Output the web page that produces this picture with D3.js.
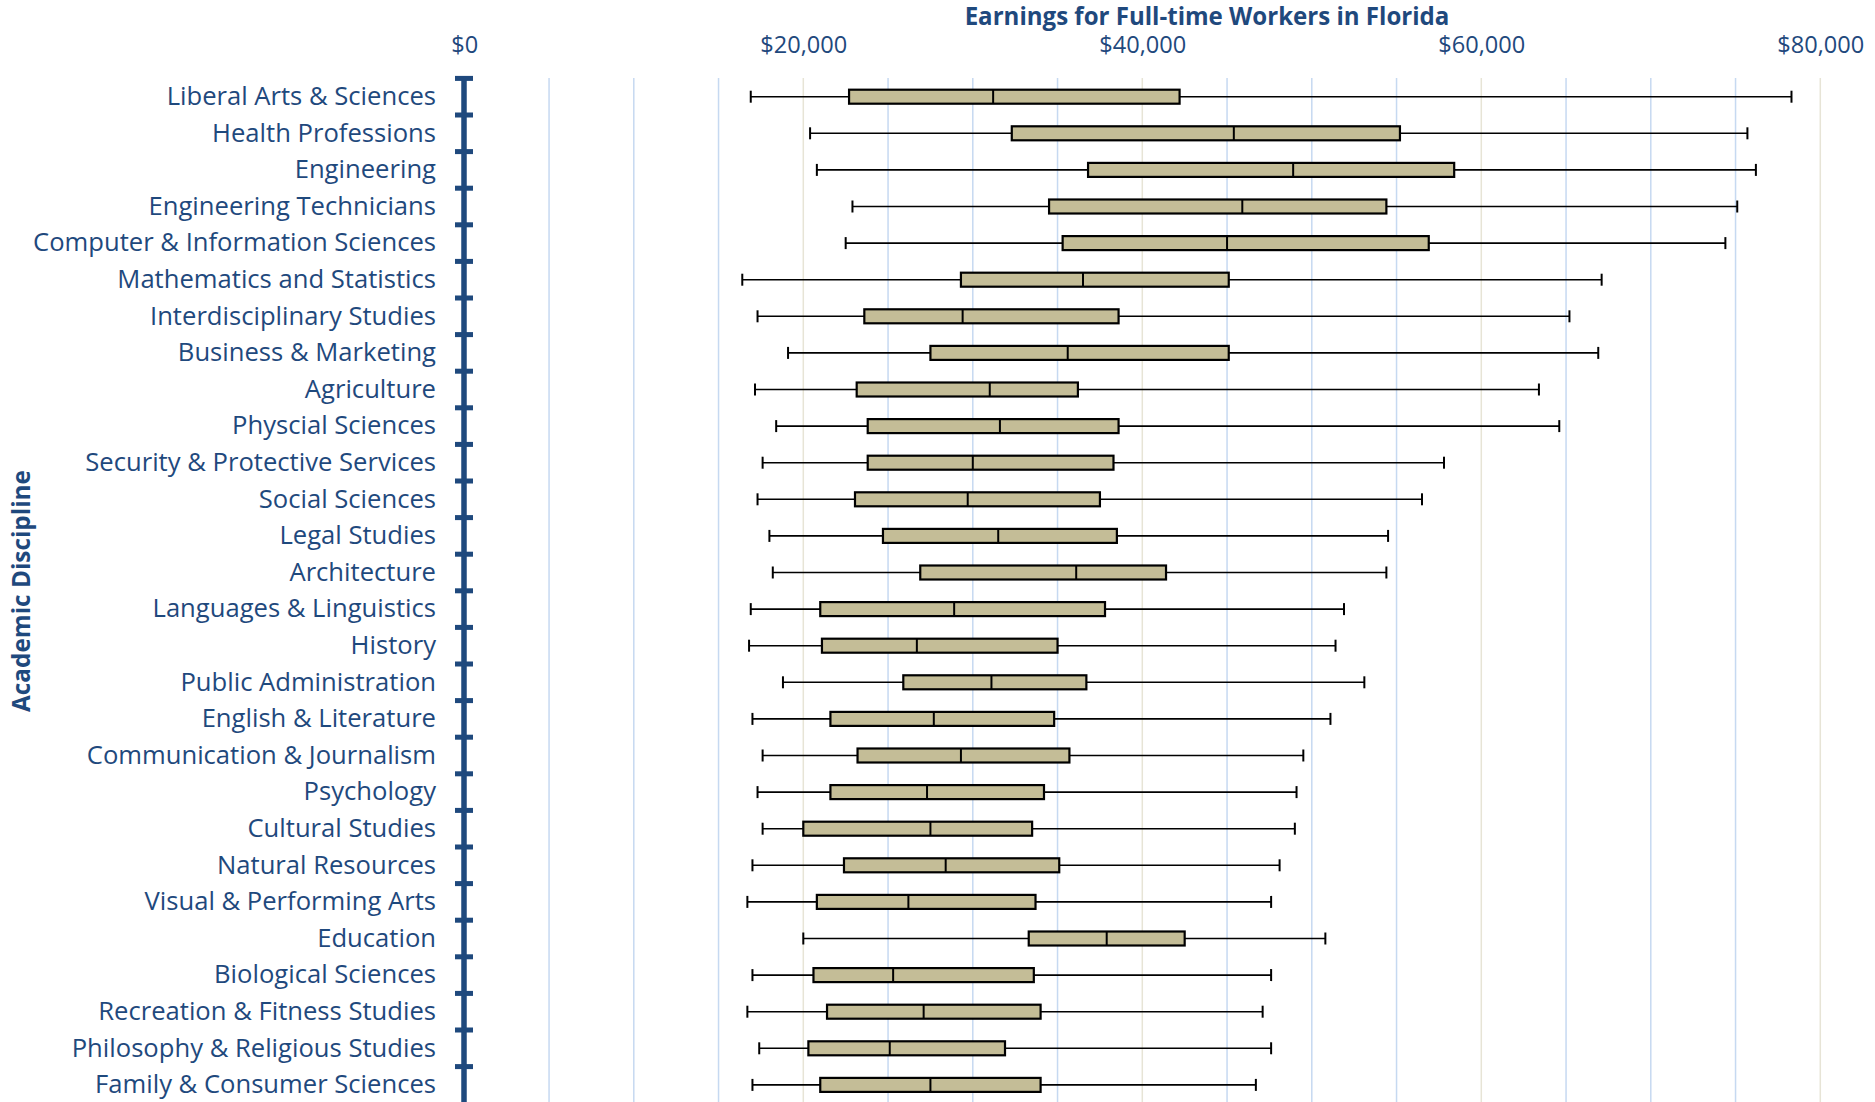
<!DOCTYPE html>
<html>
<head>
<meta charset="utf-8">
<script src="https://cdn.jsdelivr.net/npm/d3@7"></script>
<style>
  body { margin: 0; background: #fff; }
  text { font-family: "Open Sans", sans-serif; fill: #1f497d; }
</style>
</head>
<body>
<div id="chart-area"></div>
<script>
const categories = [
  "Liberal Arts & Sciences", "Health Professions", "Engineering", "Engineering Technicians",
  "Computer & Information Sciences", "Mathematics and Statistics", "Interdisciplinary Studies",
  "Business & Marketing", "Agriculture", "Physcial Sciences", "Security & Protective Services",
  "Social Sciences", "Legal Studies", "Architecture", "Languages & Linguistics", "History",
  "Public Administration", "English & Literature", "Communication & Journalism", "Psychology",
  "Cultural Studies", "Natural Resources", "Visual & Performing Arts", "Education",
  "Biological Sciences", "Recreation & Fitness Studies", "Philosophy & Religious Studies",
  "Family & Consumer Sciences"
]

// earnings in dollars
const minVals = [16900, 20400, 20800, 22900, 22500, 16400, 17300, 19100, 17150, 18400, 17600, 17300, 18000, 18200,
  16900, 16800, 18800, 17000, 17600, 17300, 17600, 17000, 16700, 20000, 17000, 16700, 17400, 17000]
const q1Vals = [22700, 32300, 36800, 34500, 35300, 29300, 23600, 27500, 23150, 23800, 23800, 23050, 24700, 26900,
  21000, 21100, 25900, 21600, 23200, 21600, 20000, 22400, 20800, 33300, 20600, 21400, 20300, 21000]
const medianVals = [31200, 45400, 48900, 45900, 45000, 36500, 29400, 35600, 31000, 31600, 30000, 29700, 31500, 36100,
  28900, 26700, 31100, 27700, 29300, 27300, 27500, 28400, 26200, 37900, 25300, 27100, 25100, 27500]
const q3Vals = [42200, 55200, 58400, 54400, 56900, 45100, 38600, 45100, 36200, 38600, 38300, 37500, 38500, 41400,
  37800, 35000, 36700, 34800, 35700, 34200, 33500, 35100, 33700, 42500, 33600, 34000, 31900, 34000]
const maxVals = [78300, 75700, 76200, 75100, 74400, 67100, 65200, 66900, 63400, 64600, 57800, 56500, 54500, 54400,
  51900, 51400, 53100, 51100, 49500, 49100, 49000, 48100, 47600, 50800, 47600, 47100, 47600, 46700]

const axisTicks = [0, 20000, 40000, 60000, 80000]
const gridTicks = d3.range(5000, 80001, 5000)

const WIDTH = 1875
const HEIGHT = 1102
const BLUE = "#1f497d"

const data = categories.map((c, i) => ({
  name: c, min: minVals[i], q1: q1Vals[i], median: medianVals[i], q3: q3Vals[i], max: maxVals[i]
}))

const svg = d3.select("#chart-area").append("svg")
  .attr("width", WIDTH)
  .attr("height", HEIGHT)

const x = d3.scaleLinear()
  .domain([0, 80000])
  .range([464.3, 1820.3])

const y = d3.scaleBand()
  .domain(categories)
  .range([78.4, 1103.2])

// set a font size so that a sample text gets a given width
function fitText(sel, target) {
  const w = sel.node().getComputedTextLength()
  const size = parseFloat(sel.attr("font-size"))
  return size * target / w
}

// grid lines
svg.append("g").selectAll("line")
  .data(gridTicks)
  .enter().append("line")
    .attr("x1", d => x(d))
    .attr("x2", d => x(d))
    .attr("y1", 78)
    .attr("y2", HEIGHT)
    .attr("stroke", d => d % 20000 === 0 ? "#e7e4d6" : "#c6d9f1")
    .attr("stroke-width", 1.5)

// top axis labels
const xAxisGroup = svg.append("g")
  .attr("transform", "translate(0, 56)")
const xAxisCall = d3.axisTop(x)
  .tickValues(axisTicks)
  .tickFormat(d3.format("$,"))
  .tickSize(0)
  .tickPadding(3)
xAxisGroup.call(xAxisCall)
xAxisGroup.select(".domain").remove()
const tickSample = xAxisGroup.selectAll("text").filter(d => d === 20000)
  .attr("font-size", 100)
const tickSize = fitText(tickSample, 87)
xAxisGroup.selectAll("text")
  .attr("font-family", null)
  .attr("font-size", tickSize)
  .attr("fill", BLUE)

// category labels
const yAxisGroup = svg.append("g")
  .attr("transform", "translate(464, 0)")
const yAxisCall = d3.axisLeft(y)
  .tickSize(0)
  .tickPadding(28)
yAxisGroup.call(yAxisCall)
yAxisGroup.select(".domain").remove()
const labelSample = yAxisGroup.selectAll("text").filter(d => d === "Computer & Information Sciences")
  .attr("font-size", 100)
const labelSize = fitText(labelSample, 403)
yAxisGroup.selectAll("text")
  .attr("font-family", null)
  .attr("font-size", labelSize)
  .attr("fill", BLUE)

// thick y axis line with ticks between categories
svg.append("line")
  .attr("x1", 464).attr("x2", 464)
  .attr("y1", 76).attr("y2", HEIGHT)
  .attr("stroke", BLUE)
  .attr("stroke-width", 5.5)

svg.append("g").selectAll("rect")
  .data(categories)
  .enter().append("rect")
    .attr("x", 455)
    .attr("y", d => y(d) - 2.5)
    .attr("width", 18)
    .attr("height", 5)
    .attr("fill", BLUE)

// boxes and whiskers
const boxH = 14
const capH = 12
const rows = svg.append("g").selectAll("g")
  .data(data)
  .enter().append("g")
    .attr("transform", d => `translate(0, ${y(d.name) + y.bandwidth() / 2})`)

rows.append("line")
  .attr("x1", d => x(d.min))
  .attr("x2", d => x(d.max))
  .attr("stroke", "#000")
  .attr("stroke-width", 1.6)

rows.append("line")
  .attr("x1", d => x(d.min)).attr("x2", d => x(d.min))
  .attr("y1", -capH / 2).attr("y2", capH / 2)
  .attr("stroke", "#000")
  .attr("stroke-width", 2)

rows.append("line")
  .attr("x1", d => x(d.max)).attr("x2", d => x(d.max))
  .attr("y1", -capH / 2).attr("y2", capH / 2)
  .attr("stroke", "#000")
  .attr("stroke-width", 2)

rows.append("rect")
  .attr("x", d => x(d.q1))
  .attr("y", -boxH / 2)
  .attr("width", d => x(d.q3) - x(d.q1))
  .attr("height", boxH)
  .attr("fill", "#c4bd97")
  .attr("stroke", "#000")
  .attr("stroke-width", 2.2)

rows.append("line")
  .attr("x1", d => x(d.median)).attr("x2", d => x(d.median))
  .attr("y1", -boxH / 2).attr("y2", boxH / 2)
  .attr("stroke", "#000")
  .attr("stroke-width", 2)

// title
const title = svg.append("text")
  .attr("x", 1207)
  .attr("y", 25)
  .attr("text-anchor", "middle")
  .attr("font-weight", "bold")
  .attr("font-size", 100)
  .text("Earnings for Full-time Workers in Florida")
title.attr("font-size", fitText(title, 485))

// y label
const yLabel = svg.append("text")
  .attr("transform", "translate(30, 591) rotate(-90)")
  .attr("text-anchor", "middle")
  .attr("font-weight", "bold")
  .attr("font-size", 100)
  .text("Academic Discipline")
yLabel.attr("font-size", fitText(yLabel, 242))
</script>
</body>
</html>
